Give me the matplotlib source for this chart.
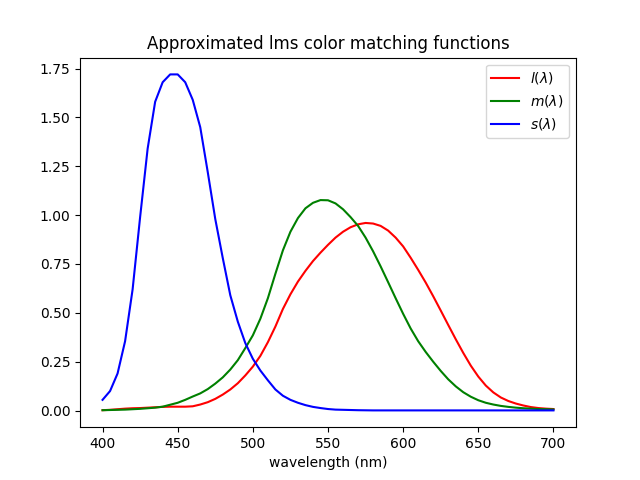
import numpy as np
import matplotlib
matplotlib.use("Agg")
import matplotlib.pyplot as plt

# wavelengths sampled every 5 nm
wavelengths = np.arange(400, 701, 5)

# values
l_bar = [
    0.002, 0.004, 0.007, 0.010, 0.012, 0.013, 0.015, 0.017, 0.019, 0.020,
    0.020, 0.020, 0.022, 0.031, 0.043, 0.060, 0.082, 0.108, 0.140, 0.180,
    0.225, 0.280, 0.350, 0.430, 0.520, 0.595, 0.660, 0.715, 0.765, 0.808,
    0.848, 0.885, 0.915, 0.938, 0.953, 0.960, 0.957, 0.945, 0.921, 0.885,
    0.840, 0.782, 0.720, 0.655, 0.585, 0.512, 0.438, 0.365, 0.295, 0.230,
    0.174, 0.128, 0.093, 0.067, 0.049, 0.036, 0.026, 0.018, 0.013, 0.010,
    0.008,
]
m_bar = [
    0.002, 0.003, 0.004, 0.005, 0.007, 0.009, 0.012, 0.015, 0.020, 0.030,
    0.040, 0.055, 0.072, 0.088, 0.110, 0.138, 0.170, 0.210, 0.258, 0.320,
    0.385, 0.470, 0.575, 0.700, 0.820, 0.915, 0.985, 1.035, 1.063, 1.077,
    1.076, 1.060, 1.030, 0.990, 0.945, 0.885, 0.815, 0.738, 0.657, 0.575,
    0.495, 0.420, 0.355, 0.300, 0.250, 0.203, 0.160, 0.124, 0.094, 0.071,
    0.053, 0.040, 0.031, 0.024, 0.019, 0.015, 0.012, 0.010, 0.008, 0.007,
    0.006,
]
s_bar = [
    0.055, 0.100, 0.190, 0.355, 0.620, 0.990, 1.340, 1.580, 1.680, 1.720,
    1.720, 1.680, 1.590, 1.450, 1.220, 0.980, 0.780, 0.590, 0.455, 0.345,
    0.265, 0.205, 0.155, 0.108, 0.076, 0.055, 0.040, 0.028, 0.019, 0.013,
    0.008, 0.005, 0.004, 0.003, 0.002, 0.0015, 0.001, 0.001, 0.001, 0.001,
    0.001, 0.001, 0.001, 0.001, 0.001, 0.001, 0.001, 0.001, 0.001, 0.001,
    0.001, 0.001, 0.001, 0.001, 0.001, 0.001, 0.001, 0.001, 0.001, 0.001,
    0.001,
]

fig, ax = plt.subplots(figsize=(6.4, 4.8), dpi=100)
ax.plot(wavelengths, l_bar, color="r", label=r"$l(\lambda)$")
ax.plot(wavelengths, m_bar, color="g", label=r"$m(\lambda)$")
ax.plot(wavelengths, s_bar, color="b", label=r"$s(\lambda)$")
ax.set_title("Approximated lms color matching functions")
ax.set_xlabel("wavelength (nm)")
ax.legend(loc="upper right")

fig.savefig("out.png", dpi=100)
